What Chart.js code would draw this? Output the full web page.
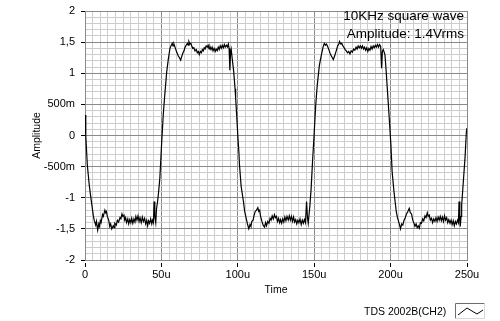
<!DOCTYPE html>
<html>
<head>
<meta charset="utf-8">
<script src="https://cdn.jsdelivr.net/npm/chart.js@4/dist/chart.umd.min.js"></script>
<style>
  body { margin: 0; background: #fff; }
  canvas { display: block; }
</style>
</head>
<body>
<canvas id="scope" width="500" height="321"></canvas>
<script>
// waveform (time in microseconds, amplitude in V)
let timeUs = [
  0, 0.5, 1.5, 2.8, 3.9, 5.4, 6, 7, 7.5, 8.3, 9, 9.5, 10, 10.5, 11.5, 12, 13, 13.5, 14, 14.6,
  15.5, 16.2, 16.8, 17.5, 18.5, 19, 19.5, 20.5, 21.2, 22, 22.9, 23.5, 24.2, 24.8, 25.5, 26, 26.6, 27.2,
  28, 28.6, 29.3, 30, 30.6, 31.3, 32, 32.7, 33.3, 34, 34.7, 35.4, 36, 36.8, 37.5, 38.2, 39, 39.7,
  40.4, 41, 41.6, 42.3, 43, 43.7, 44.2, 44.8, 45.2, 45.7, 46.3, 46.8, 47.5, 48.2, 49,
  50.1, 51.2, 52.2, 53.5, 54.6, 55.6, 56.3, 57.1, 57.6, 58.2, 58.9, 60, 61, 61.8, 62.6, 63.2, 64,
  64.8, 65.5, 66.2, 67, 67.5, 68, 68.7, 69.3, 69.8, 70.5, 71.2, 72, 72.8, 73.5, 74.2, 74.8, 75.5,
  76.2, 76.8, 77.4, 78, 78.6, 79.3, 80, 80.6, 81.2, 81.8, 82.5, 83.2, 83.8, 84.5, 85.2, 85.8, 86.5,
  87.2, 87.8, 88.5, 89.2, 89.8, 90.5, 91.2, 91.8, 92.5, 93.2, 93.8, 94.3, 94.8, 95.2, 95.7, 96.5,
  97.3, 98.2, 98.6, 99.2,
  100.1, 100.7, 101.1, 102.2, 103.7, 104.5, 105.5, 106.3, 107.2, 108, 108.6, 109.2, 110, 110.7,
  111.4, 112.2, 113.1, 113.7, 114.3, 114.9, 115.8, 116.6, 117.5, 118.2, 118.8, 119.6, 120.4, 121.1,
  121.8, 122.5, 123.2, 124, 124.6, 125.3, 126, 126.7, 127.4, 128, 128.7, 129.4, 130.1, 130.8, 131.5,
  132.2, 133, 133.7, 134.4, 135.1, 135.8, 136.5, 137.2, 137.9, 138.6, 139.3, 140, 140.7, 141.5,
  142.2, 142.9, 143.6, 144.3, 145, 145.6, 146.1, 147.2, 148, 148.8, 149.9,
  151, 152, 153.4, 154.9, 155.8, 156.6, 157.3, 158, 158.6, 159.6, 160.7, 161.6, 162.5, 163.4, 164.4,
  165.4, 166.1, 166.6, 167.3, 168, 168.8, 169.6, 170.3, 171, 171.8, 172.6, 173.4, 174.2, 175, 175.8,
  176.6, 177.4, 178.1, 178.8, 179.5, 180.2, 180.9, 181.6, 182.3, 183, 183.7, 184.4, 185.1, 185.8,
  186.5, 187.2, 187.9, 188.6, 189.3, 190, 190.7, 191.4, 192.1, 192.8, 193.5, 194.1, 194.6, 195.2,
  196.3, 197.1, 198.2, 199.1,
  200.2, 201, 202.2, 203.7, 204.5, 205.2, 205.9, 206.5, 207.2, 208, 208.8, 209.6, 210.4, 211.3,
  212.2, 212.9, 213.7, 214.5, 215.2, 215.9, 216.7, 217.4, 218.1, 218.8, 219.5, 220.2, 221, 221.7,
  222.5, 223.2, 224, 224.6, 225.3, 226, 226.8, 227.5, 228.2, 229, 229.7, 230.4, 231.1, 231.8, 232.5,
  233.2, 233.9, 234.6, 235.3, 236, 236.7, 237.4, 238.1, 238.9, 239.6, 240.3, 241, 241.7, 242.4,
  243.1, 243.8, 244.4, 244.8, 245.3, 245.6, 246.1, 246.5, 247.6, 248.7, 249.6, 250
]
let amplitude = [
  0.33, 0.0, -0.47, -0.8, -1.01, -1.28, -1.36, -1.44, -1.38, -1.52, -1.42, -1.46, -1.37, -1.40, -1.27, -1.30, -1.20, -1.24, -1.22, -1.30,
  -1.36, -1.46, -1.42, -1.50, -1.45, -1.48, -1.41, -1.44, -1.36, -1.39, -1.32, -1.34, -1.26, -1.30, -1.28, -1.36, -1.32, -1.40,
  -1.34, -1.42, -1.35, -1.40, -1.33, -1.41, -1.34, -1.39, -1.30, -1.36, -1.29, -1.38, -1.32, -1.40, -1.31, -1.38, -1.33, -1.42,
  -1.36, -1.45, -1.37, -1.41, -1.34, -1.42, -1.36, -1.40, -1.06, -1.30, -1.40, -1.18, -1.06, -0.90, -0.68,
  -0.15, 0.33, 0.65, 1.03, 1.24, 1.40, 1.44, 1.48, 1.44, 1.47, 1.42, 1.34, 1.28, 1.25, 1.21, 1.26, 1.32,
  1.36, 1.42, 1.45, 1.48, 1.45, 1.51, 1.47, 1.48, 1.44, 1.40, 1.41, 1.36, 1.38, 1.33, 1.35, 1.30, 1.35,
  1.33, 1.38, 1.36, 1.41, 1.39, 1.44, 1.42, 1.45, 1.39, 1.43, 1.38, 1.42, 1.36, 1.40, 1.35, 1.39, 1.36,
  1.42, 1.38, 1.44, 1.40, 1.45, 1.41, 1.46, 1.42, 1.45, 1.42, 1.47, 1.40, 1.05, 1.30, 1.38, 1.20,
  1.03, 0.75, 0.60, 0.35,
  -0.04, -0.26, -0.47, -0.82, -1.06, -1.22, -1.33, -1.42, -1.50, -1.43, -1.46, -1.38, -1.36, -1.28,
  -1.22, -1.20, -1.16, -1.22, -1.20, -1.30, -1.38, -1.44, -1.47, -1.40, -1.45, -1.38, -1.41, -1.33,
  -1.36, -1.29, -1.34, -1.27, -1.32, -1.30, -1.38, -1.33, -1.40, -1.35, -1.41, -1.34, -1.39, -1.31, -1.37,
  -1.30, -1.36, -1.29, -1.36, -1.30, -1.38, -1.31, -1.39, -1.35, -1.42, -1.36, -1.40, -1.34, -1.43,
  -1.36, -1.41, -1.35, -1.40, -1.06, -1.32, -1.41, -1.12, -0.85, -0.47, 0.0,
  0.49, 0.81, 1.13, 1.32, 1.42, 1.48, 1.45, 1.47, 1.44, 1.38, 1.30, 1.26, 1.22, 1.28, 1.36,
  1.44, 1.47, 1.51, 1.47, 1.48, 1.44, 1.41, 1.38, 1.36, 1.33, 1.35, 1.31, 1.36, 1.34, 1.39,
  1.37, 1.42, 1.39, 1.44, 1.41, 1.44, 1.40, 1.44, 1.39, 1.42, 1.37, 1.41, 1.35, 1.40,
  1.37, 1.43, 1.39, 1.44, 1.41, 1.45, 1.42, 1.46, 1.42, 1.46, 1.43, 1.08, 1.35, 1.38,
  1.30, 1.03, 0.62, 0.28,
  -0.15, -0.58, -0.90, -1.22, -1.32, -1.38, -1.44, -1.50, -1.42, -1.44, -1.36, -1.32, -1.26, -1.22,
  -1.17, -1.24, -1.26, -1.36, -1.40, -1.46, -1.42, -1.48, -1.45, -1.49, -1.40, -1.41, -1.34, -1.37,
  -1.29, -1.32, -1.24, -1.30, -1.28, -1.36, -1.33, -1.40, -1.34, -1.38, -1.32, -1.38, -1.31, -1.36, -1.30,
  -1.37, -1.31, -1.38, -1.29, -1.36, -1.32, -1.40, -1.35, -1.41, -1.36, -1.43, -1.37, -1.45, -1.38,
  -1.42, -1.36, -1.40, -1.06, -1.38, -1.46, -1.30, -1.12, -0.74, -0.36, 0.06, 0.12
]

let headerLines = ['10KHz square wave', 'Amplitude: 1.4Vrms']
let seriesName = 'TDS 2002B(CH2)'

const MAJOR = '#8a8a8a'
const MINOR = '#cdcdcd'

let isMajor = (v, step) => Math.abs(v / step - Math.round(v / step)) < 1e-6

// y labels in LabVIEW style: 1,5  500m  -500m
let fmtVolts = (v) => {
  v = Math.round(v * 10) / 10
  if (v === 0) return '0'
  if (Math.abs(v) < 1) return Math.round(v * 1000) + 'm'
  return String(v).replace('.', ',')
}

// header text, legend label and the little plot-style icon
const scopeDecor = {
  id: 'scopeDecor',
  afterDraw(chart) {
    const c = chart.ctx
    c.save()
    c.fillStyle = '#000'
    c.font = '13.5px "Liberation Sans", Arial, sans-serif'
    c.textAlign = 'right'
    c.textBaseline = 'alphabetic'
    c.fillText(headerLines[0], 464, 20)
    c.fillText(headerLines[1], 464, 38)

    c.font = '10.5px "Liberation Sans", Arial, sans-serif'
    c.textAlign = 'left'
    c.textBaseline = 'middle'
    c.fillText(seriesName, 364, 312)

    // sunken box
    c.fillStyle = '#fff'
    c.fillRect(455, 303, 29, 16)
    c.lineWidth = 1
    c.strokeStyle = '#6e6e6e'
    c.beginPath()
    c.moveTo(455.5, 318.5); c.lineTo(455.5, 303.5); c.lineTo(484.5, 303.5)
    c.stroke()
    c.strokeStyle = '#d8d8d8'
    c.beginPath()
    c.moveTo(484.5, 303.5); c.lineTo(484.5, 318.5); c.lineTo(455.5, 318.5)
    c.stroke()
    c.strokeStyle = '#000'
    c.beginPath()
    c.moveTo(458, 315); c.lineTo(467, 308); c.lineTo(477, 314); c.lineTo(483, 310)
    c.stroke()
    c.restore()
  }
}

let ctx = document.getElementById('scope')

let myChart = new Chart(ctx, {
  type: 'line',
  data: {
    datasets: [{
      label: seriesName,
      data: timeUs.map((t, i) => ({ x: t, y: amplitude[i] })),
      borderColor: '#000',
      borderWidth: 1.2,
      pointRadius: 0,
      tension: 0,
      fill: false
    }]
  },
  options: {
    responsive: false,
    animation: false,
    events: [],
    layout: { padding: { left: 0, right: 33, top: 11, bottom: 0 } },
    plugins: { legend: { display: false }, tooltip: { enabled: false } },
    scales: {
      x: {
        type: 'linear',
        min: 0,
        max: 250,
        afterFit: (scale) => { scale.height = 61 },
        grid: {
          color: (c) => isMajor(c.tick.value, 50) ? MAJOR : MINOR,
          tickColor: (c) => isMajor(c.tick.value, 50) ? '#000' : 'rgba(0,0,0,0)',
          tickLength: 7,
          tickBorderDash: [5, 2],
          tickBorderDashOffset: 5
        },
        border: { color: MAJOR },
        ticks: {
          stepSize: 5,
          autoSkip: false,
          maxRotation: 0,
          minRotation: 0,
          padding: 1,
          color: '#000',
          font: { family: '"Liberation Sans", Arial, sans-serif', size: 11 },
          callback: (v) => isMajor(v, 50) ? (v === 0 ? '0' : v + 'u') : ''
        },
        title: {
          display: true,
          text: 'Time',
          color: '#000',
          font: { family: '"Liberation Sans", Arial, sans-serif', size: 10.5, lineHeight: 1.2 },
          padding: { top: 0, bottom: 25 }
        }
      },
      y: {
        min: -2,
        max: 2,
        afterFit: (scale) => { scale.width = 85 },
        grid: {
          color: (c) => isMajor(c.tick.value, 0.5) ? MAJOR : MINOR,
          tickColor: (c) => isMajor(c.tick.value, 0.5) ? '#000' : 'rgba(0,0,0,0)',
          tickLength: 8,
          tickBorderDash: [4, 4],
          tickBorderDashOffset: 4
        },
        border: { color: MAJOR },
        ticks: {
          stepSize: 0.1,
          autoSkip: false,
          padding: 2,
          color: '#000',
          font: { family: '"Liberation Sans", Arial, sans-serif', size: 11 },
          callback: (v) => isMajor(v, 0.5) ? fmtVolts(v) : ''
        },
        title: {
          display: true,
          text: 'Amplitude',
          color: '#000',
          font: { family: '"Liberation Sans", Arial, sans-serif', size: 10.5, lineHeight: 1.2 },
          padding: { top: 31, bottom: 0 }
        }
      }
    }
  },
  plugins: [scopeDecor]
})
</script>
</body>
</html>
